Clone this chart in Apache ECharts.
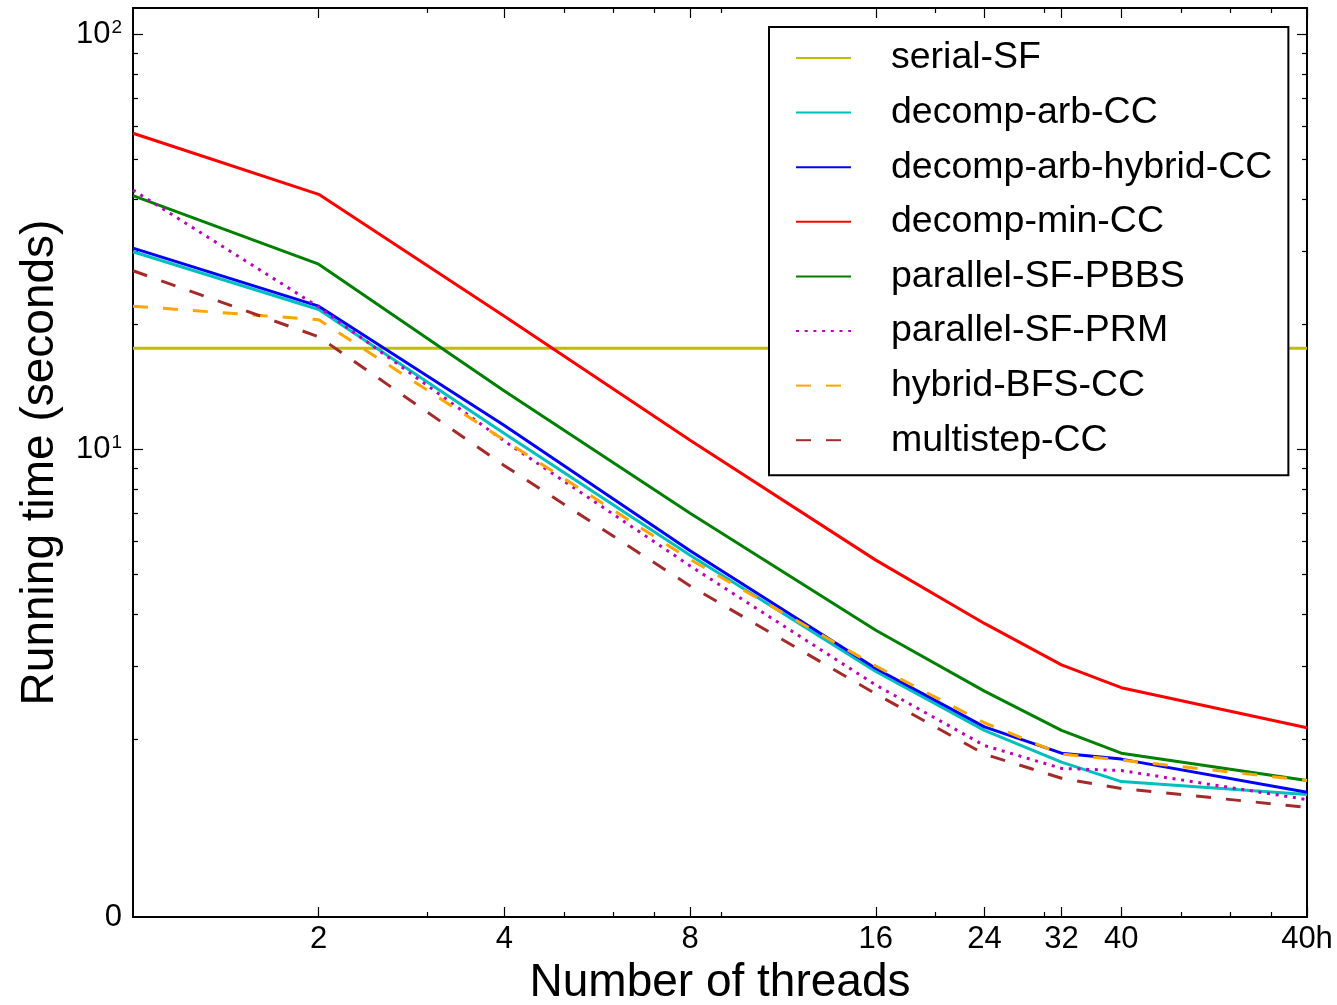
<!DOCTYPE html>
<html>
<head>
<meta charset="utf-8">
<script src="https://cdn.jsdelivr.net/npm/echarts@6/dist/echarts.min.js"></script>
<style>
html, body { margin: 0; padding: 0; background: #ffffff; }
#chart { width: 1337px; height: 1005px; }
</style>
</head>
<body>
<div id="chart"></div>
<script>
// ---- data ----
// x positions: thread counts; "40h" (40 cores with hyper-threading) sits at 80 on the log2 axis
const threads = [1, 2, 4, 8, 16, 24, 32, 40, 80];
const xTickValues = [2, 4, 8, 16, 24, 32, 40, 80];
const xTickLabels = ['2', '4', '8', '16', '24', '32', '40', '40h'];
const xMinorTicks = [3, 5, 6, 7, 9, 20, 30, 50, 60, 70];

const yTickValues = [10, 100];
const yMinorTicks = [2, 3, 4, 5, 6, 7, 8, 9, 20, 30, 40, 50, 60, 70, 80, 90];
const yBottomValue = 0.7453;   // bottom of the axis, labelled "0"
const yTopValue = 115.6;

const seriesNames = ['serial-SF', 'decomp-arb-CC', 'decomp-arb-hybrid-CC', 'decomp-min-CC',
  'parallel-SF-PBBS', 'parallel-SF-PRM', 'hybrid-BFS-CC', 'multistep-CC'];

const serialSF          = [17.5, 17.5, 17.5, 17.5, 17.5, 17.5, 17.5, 17.5, 17.5];
const decompArbCC       = [29.9, 21.7, 10.9, 5.55, 2.91, 2.10, 1.76, 1.58, 1.47];
const decompArbHybridCC = [30.5, 22.1, 11.4, 5.69, 2.96, 2.14, 1.85, 1.79, 1.49];
const decompMinCC       = [57.7, 41.1, 20.9, 10.5, 5.40, 3.80, 3.02, 2.66, 2.13];
const parallelSFPBBS    = [40.8, 27.9, 13.8, 7.00, 3.66, 2.61, 2.10, 1.85, 1.59];
const parallelSFPRM     = [42.1, 22.0, 10.45, 5.23, 2.70, 1.93, 1.70, 1.68, 1.43];
const hybridBFSCC       = [22.1, 20.5, 10.5, 5.42, 3.00, 2.19, 1.84, 1.78, 1.59];
const multistepCC       = [26.9, 18.65, 9.12, 4.68, 2.57, 1.84, 1.61, 1.52, 1.37];

// ---- styling ----
const FONT = '"Liberation Sans", Arial, Helvetica, sans-serif';
const seriesValues = [serialSF, decompArbCC, decompArbHybridCC, decompMinCC,
  parallelSFPBBS, parallelSFPRM, hybridBFSCC, multistepCC];
const seriesColors = ['#bfbf00', '#00bfbf', '#0000ff', '#ff0000', '#008000', '#bf00bf', '#ffa500', '#a52a2a'];
const seriesDash = ['solid', 'solid', 'solid', 'solid', 'solid', [3, 5.7], [15, 15], [15, 15]];

function xLabelFor(v) {
  for (let i = 0; i < xTickValues.length; i++) {
    if (Math.abs(xTickValues[i] - v) < 1e-6 * xTickValues[i]) return xTickLabels[i];
  }
  return '';
}
function yLabelFor(v) {
  if (v < 1) return '0';
  const e = Math.round(Math.log10(v));
  return '{b|10}{s|' + e + '}';
}

function makeX(position, major, withLabels) {
  const ax = {
    type: 'log', logBase: 2, min: 1, max: 80, position: position,
    axisLine: { show: major, onZero: false, lineStyle: { color: '#000', width: 2 } },
    axisTick: { show: true, inside: true, length: major ? 10 : 5,
      customValues: major ? xTickValues : xMinorTicks,
      lineStyle: { color: '#000', width: 1.2 } },
    axisLabel: { show: false },
    splitLine: { show: false }, minorTick: { show: false }, minorSplitLine: { show: false }
  };
  if (withLabels) {
    ax.axisLabel = { show: true, customValues: xTickValues, margin: 7,
      fontFamily: FONT, fontSize: 31, color: '#000',
      formatter: function (v) { return xLabelFor(v); } };
    ax.name = 'Number of threads';
    ax.nameLocation = 'middle';
    ax.nameGap = 41;
    ax.nameTextStyle = { fontFamily: FONT, fontSize: 46, color: '#000' };
  }
  return ax;
}
function makeY(position, major, withLabels) {
  const ax = {
    type: 'log', logBase: 10, min: yBottomValue, max: yTopValue, position: position,
    axisLine: { show: major, onZero: false, lineStyle: { color: '#000', width: 2 } },
    axisTick: { show: true, inside: true, length: major ? 10 : 5,
      customValues: major ? yTickValues : yMinorTicks,
      lineStyle: { color: '#000', width: 1.2 } },
    axisLabel: { show: false },
    splitLine: { show: false }, minorTick: { show: false }, minorSplitLine: { show: false }
  };
  if (withLabels) {
    ax.axisLabel = { show: true, customValues: [yBottomValue].concat(yTickValues), margin: 11,
      fontFamily: FONT, fontSize: 31, color: '#000',
      formatter: function (v) { return yLabelFor(v); },
      rich: {
        b: { fontFamily: FONT, fontSize: 31, lineHeight: 31, color: '#000' },
        s: { fontFamily: FONT, fontSize: 19, lineHeight: 19, color: '#000', verticalAlign: 'top', padding: [0, 0, 0, 1] }
      } };
    ax.name = 'Running time (seconds)';
    ax.nameLocation = 'middle';
    ax.nameGap = 70;
    ax.nameTextStyle = { fontFamily: FONT, fontSize: 46, color: '#000' };
  }
  return ax;
}

const series = seriesNames.map(function (name, i) {
  return {
    name: name, type: 'line', xAxisIndex: 0, yAxisIndex: 0,
    symbol: 'none', showSymbol: false, smooth: false, silent: true,
    data: threads.map(function (t, k) { return [t, seriesValues[i][k]]; }),
    lineStyle: { color: seriesColors[i], width: 3, type: seriesDash[i], cap: 'butt' },
    itemStyle: { color: seriesColors[i] },
    z: 2 + i
  };
});

const chart = echarts.init(document.getElementById('chart'), null, { renderer: 'canvas' });
chart.setOption({
  animation: false,
  backgroundColor: '#ffffff',
  textStyle: { fontFamily: FONT },
  grid: { left: 133, right: 30, top: 8, bottom: 88, containLabel: false, outerBoundsMode: 'none' },
  xAxis: [makeX('bottom', true, true), makeX('bottom', false, false), makeX('top', true, false), makeX('top', false, false)],
  yAxis: [makeY('left', true, true), makeY('left', false, false), makeY('right', true, false), makeY('right', false, false)],
  legend: {
    orient: 'vertical', left: 769, top: 27,
    padding: [12, 16, 16, 26],
    itemWidth: 55, itemHeight: 14, itemGap: 16.6,
    borderColor: '#000', borderWidth: 2, backgroundColor: '#ffffff',
    selectedMode: false,
    itemStyle: { opacity: 0, color: 'rgba(0,0,0,0)', borderWidth: 0 },
    textStyle: { fontFamily: FONT, fontSize: 37.5, lineHeight: 37, color: '#000', padding: [0, 0, 0, 35] },
    data: seriesNames
  },
  series: series
});
</script>
</body>
</html>
